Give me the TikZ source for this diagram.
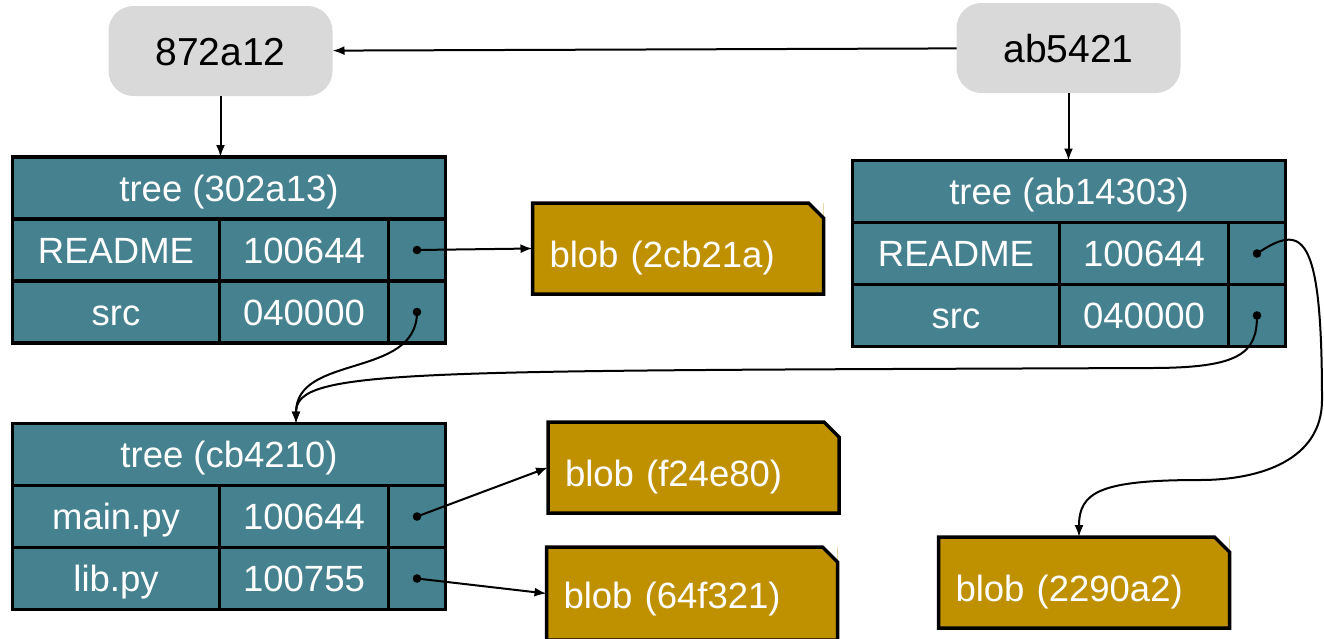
\documentclass[tikz,border=0pt]{standalone}
\usepackage{fontspec}
\setmainfont{Liberation Sans}
\usetikzlibrary{calc, positioning, arrows.meta}

\definecolor{treefill}{HTML}{45818E}
\definecolor{blobfill}{HTML}{BF9000}
\definecolor{commitfill}{HTML}{D9D9D9}

\newcommand\cellfont{\fontsize{36.5}{40}\selectfont}
\newcommand\commitfont{\fontsize{39}{44}\selectfont}

% blob box with a cut corner: [options]{name}{position}{text}
\newcommand\blobnode[4][]{%
  \node[blob, #1] (#2) at (#3) {#4};
  \fill[white] ($(#2.north east)+(-15,0)$) -- (#2.north east) -- ($(#2.north east)+(0,15)$) -- cycle;
  \draw[blobline] (#2.south west) |- ($(#2.north east)+(-15,0)$) -- ($(#2.north east)+(0,15)$) -- (#2.south east) -- cycle;
}

\begin{document}
\begin{tikzpicture}[x=1pt, y=-1pt,
  commit/.style={fill=commitfill, rounded corners=25pt, minimum width=224pt, minimum height=90pt,
    font=\commitfont, text height=28pt, text depth=0pt, inner sep=0pt, outer sep=0pt},
  cell/.style={draw, line width=3.5pt, fill=treefill, text=white, font=\cellfont, minimum height=62pt,
    text height=26pt, text depth=0pt, inner sep=0pt, outer sep=0pt},
  header/.style={cell, minimum width=433pt},
  namecell/.style={cell, minimum width=207pt},
  modecell/.style={cell, minimum width=169pt},
  ptrcell/.style={cell, minimum width=57pt},
  blob/.style={fill=blobfill, text=white, font=\cellfont, minimum height=91pt, text width=257pt,
    inner xsep=17pt, inner ysep=0pt, align=left, text height=38pt, text depth=0pt, outer sep=0pt},
  blobline/.style={draw, line width=3.5pt},
  link/.style={-{Latex[length=12pt, width=9pt]}, line width=2pt}
]
  \useasboundingbox (0,0) rectangle (1324,638);

  % commits
  \node[commit] (c1) at (220.5,51) {872a12};
  \node[commit] (c2) at (1068.5,48) {ab5421};

  % tree 302a13
  \node[header] (t1) at (229,188) {tree (302a13)};
  \node[namecell, below right=0pt of t1.south west] (t1name1) {README};
  \node[modecell, right=0pt of t1name1] (t1mode1) {100644};
  \node[ptrcell, right=0pt of t1mode1] (t1ptr1) {};
  \node[namecell, below=0pt of t1name1] (t1name2) {src};
  \node[modecell, right=0pt of t1name2] (t1mode2) {040000};
  \node[ptrcell, right=0pt of t1mode2] (t1ptr2) {};

  % tree ab14303
  \node[header] (t2) at (1069,191.5) {tree (ab14303)};
  \node[namecell, below right=0pt of t2.south west] (t2name1) {README};
  \node[modecell, right=0pt of t2name1] (t2mode1) {100644};
  \node[ptrcell, right=0pt of t2mode1] (t2ptr1) {};
  \node[namecell, below=0pt of t2name1] (t2name2) {src};
  \node[modecell, right=0pt of t2name2] (t2mode2) {040000};
  \node[ptrcell, right=0pt of t2mode2] (t2ptr2) {};

  % tree cb4210
  \node[header] (t3) at (229,454.5) {tree (cb4210)};
  \node[namecell, below right=0pt of t3.south west] (t3name1) {main.py};
  \node[modecell, right=0pt of t3name1] (t3mode1) {100644};
  \node[ptrcell, right=0pt of t3mode1] (t3ptr1) {};
  \node[namecell, below=0pt of t3name1] (t3name2) {lib.py};
  \node[modecell, right=0pt of t3name2] (t3mode2) {100755};
  \node[ptrcell, right=0pt of t3mode2] (t3ptr2) {};

  % blobs
  \blobnode{b1}{678,248.5}{blob (2cb21a)}
  \blobnode{b2}{693.5,467.5}{blob (f24e80)}
  \blobnode[minimum height=93pt, text height=30pt]{b3}{692,593.5}{blob (64f321)}
  \blobnode{b4}{1084,582.5}{blob (2290a2)}

  % links
  \coordinate (srcbend) at (1150,368);
  \coordinate (swing) at (1322,400);
  \coordinate (dip) at (1200,480);

  \draw[link] (c2) -- (c1);
  \draw[link] (c1) -- (c1 |- t1.north);
  \draw[link] (c2) -- (c2 |- t2.north);

  \draw[link] (t1ptr1.center) -- (b1.west);
  \draw[link] (t1ptr2.center) .. controls +(0,67) and +(0,-70) .. ([xshift=67pt]t3.north);
  \draw[link] (t2ptr2.center) .. controls +(0,38) and +(90,0) .. (srcbend)
    .. controls +(-750,3) and +(0,-55) .. ([xshift=67pt]t3.north);
  \draw[link] (t2ptr1.center) .. controls +(45,-30) and +(0,-170) .. (swing)
    .. controls +(0,60) and +(60,0) .. (dip)
    .. controls +(-100,0) and +(0,-45) .. ([xshift=-5pt]b4.north);
  \draw[link] (t3ptr1.center) -- (b2.west);
  \draw[link] (t3ptr2.center) -- (b3.west);

  \fill (t1ptr1) circle (4.3);
  \fill (t1ptr2) circle (4.3);
  \fill (t2ptr1) circle (4.3);
  \fill (t2ptr2) circle (4.3);
  \fill (t3ptr1) circle (4.3);
  \fill (t3ptr2) circle (4.3);
\end{tikzpicture}
\end{document}
